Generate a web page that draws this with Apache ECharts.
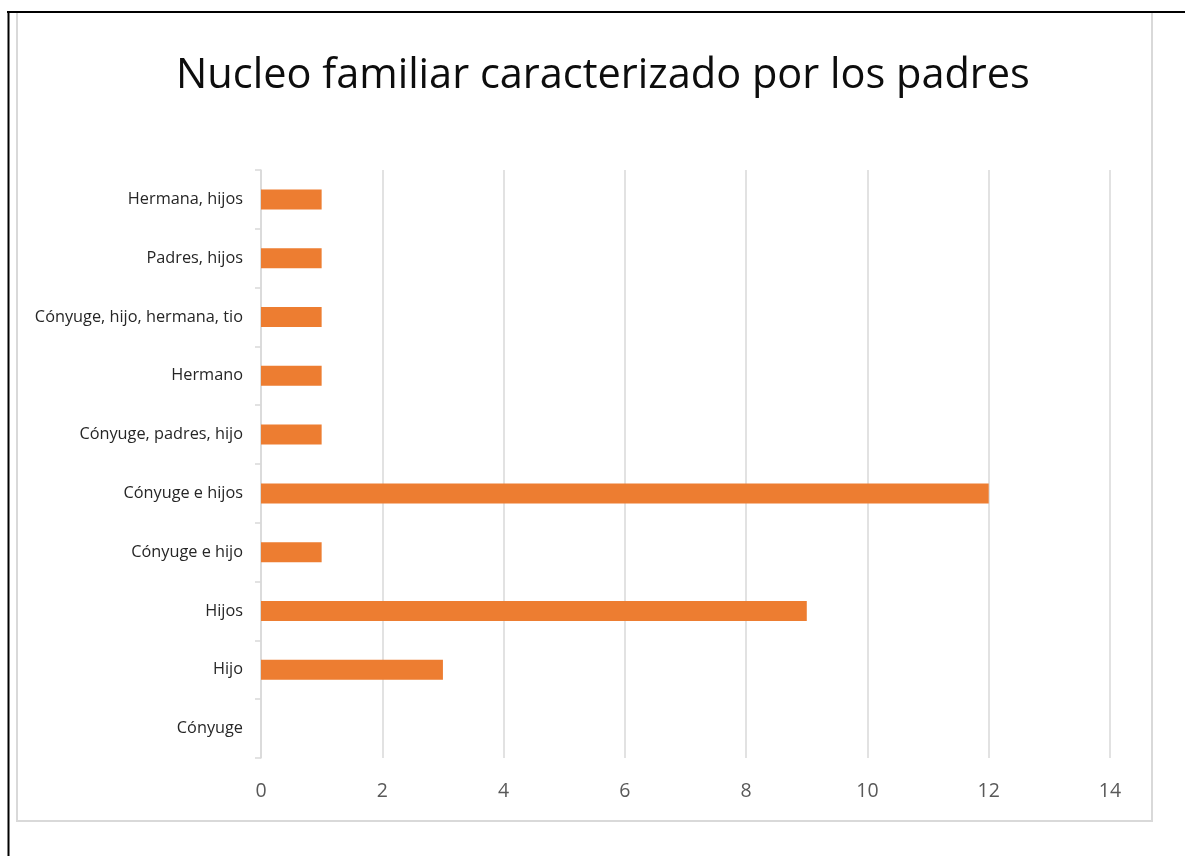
<!DOCTYPE html>
<html>
<head>
<meta charset="utf-8">
<script src="https://cdn.jsdelivr.net/npm/echarts@6/dist/echarts.min.js"></script>
<style>
html,body{margin:0;padding:0;background:#fff;}
#c{width:1185px;height:856px;}
</style>
</head>
<body>
<div id="c"></div>
<script>
const titleText = 'Nucleo familiar caracterizado por los padres';
const categories = ['Cónyuge', 'Hijo', 'Hijos', 'Cónyuge e hijo', 'Cónyuge e hijos', 'Cónyuge, padres, hijo', 'Hermano', 'Cónyuge, hijo, hermana, tio', 'Padres, hijos', 'Hermana, hijos'];
const values = [0, 3, 9, 1, 12, 1, 1, 1, 1, 1];
const xMin = 0, xMax = 14, xStep = 2;

const chart = echarts.init(document.getElementById('c'), null, {renderer: 'canvas'});
chart.setOption({
  backgroundColor: '#fff',
  animation: false,
  title: {
    text: titleText,
    left: 598,
    textAlign: 'center',
    top: 50,
    textStyle: {fontFamily: 'Open Sans', fontSize: 41.5, fontWeight: 'normal', color: '#0d0d0d'}
  },
  graphic: [
    {type: 'rect', shape: {x: 17, y: 12, width: 1135, height: 809}, style: {fill: 'none', stroke: '#d9d9d9', lineWidth: 2}, z: 0},
    {type: 'line', shape: {x1: 7, y1: 12, x2: 1185, y2: 12}, style: {stroke: '#000', lineWidth: 2}, z: 10},
    {type: 'line', shape: {x1: 8.5, y1: 11, x2: 8.5, y2: 856}, style: {stroke: '#000', lineWidth: 2}, z: 10}
  ],
  grid: {left: 261, right: 75, top: 170, bottom: 98, containLabel: false},
  xAxis: {
    type: 'value', min: xMin, max: xMax, interval: xStep,
    axisLine: {show: false}, axisTick: {show: false},
    splitLine: {show: true, lineStyle: {color: '#d9d9d9', width: 1.5}},
    axisLabel: {fontFamily: 'Open Sans', fontSize: 19.5, color: '#595959', margin: 23}
  },
  yAxis: {
    type: 'category', data: categories,
    axisLine: {show: true, lineStyle: {color: '#d9d9d9', width: 1.5}},
    axisTick: {show: true, length: 6, lineStyle: {color: '#d9d9d9', width: 1.5}},
    splitLine: {show: false},
    axisLabel: {fontFamily: 'Open Sans', fontSize: 16.3, color: '#262626', margin: 18}
  },
  series: [{
    type: 'bar', data: values, barWidth: 20,
    itemStyle: {color: '#ED7D31'},
    silent: true
  }]
});
</script>
</body>
</html>
